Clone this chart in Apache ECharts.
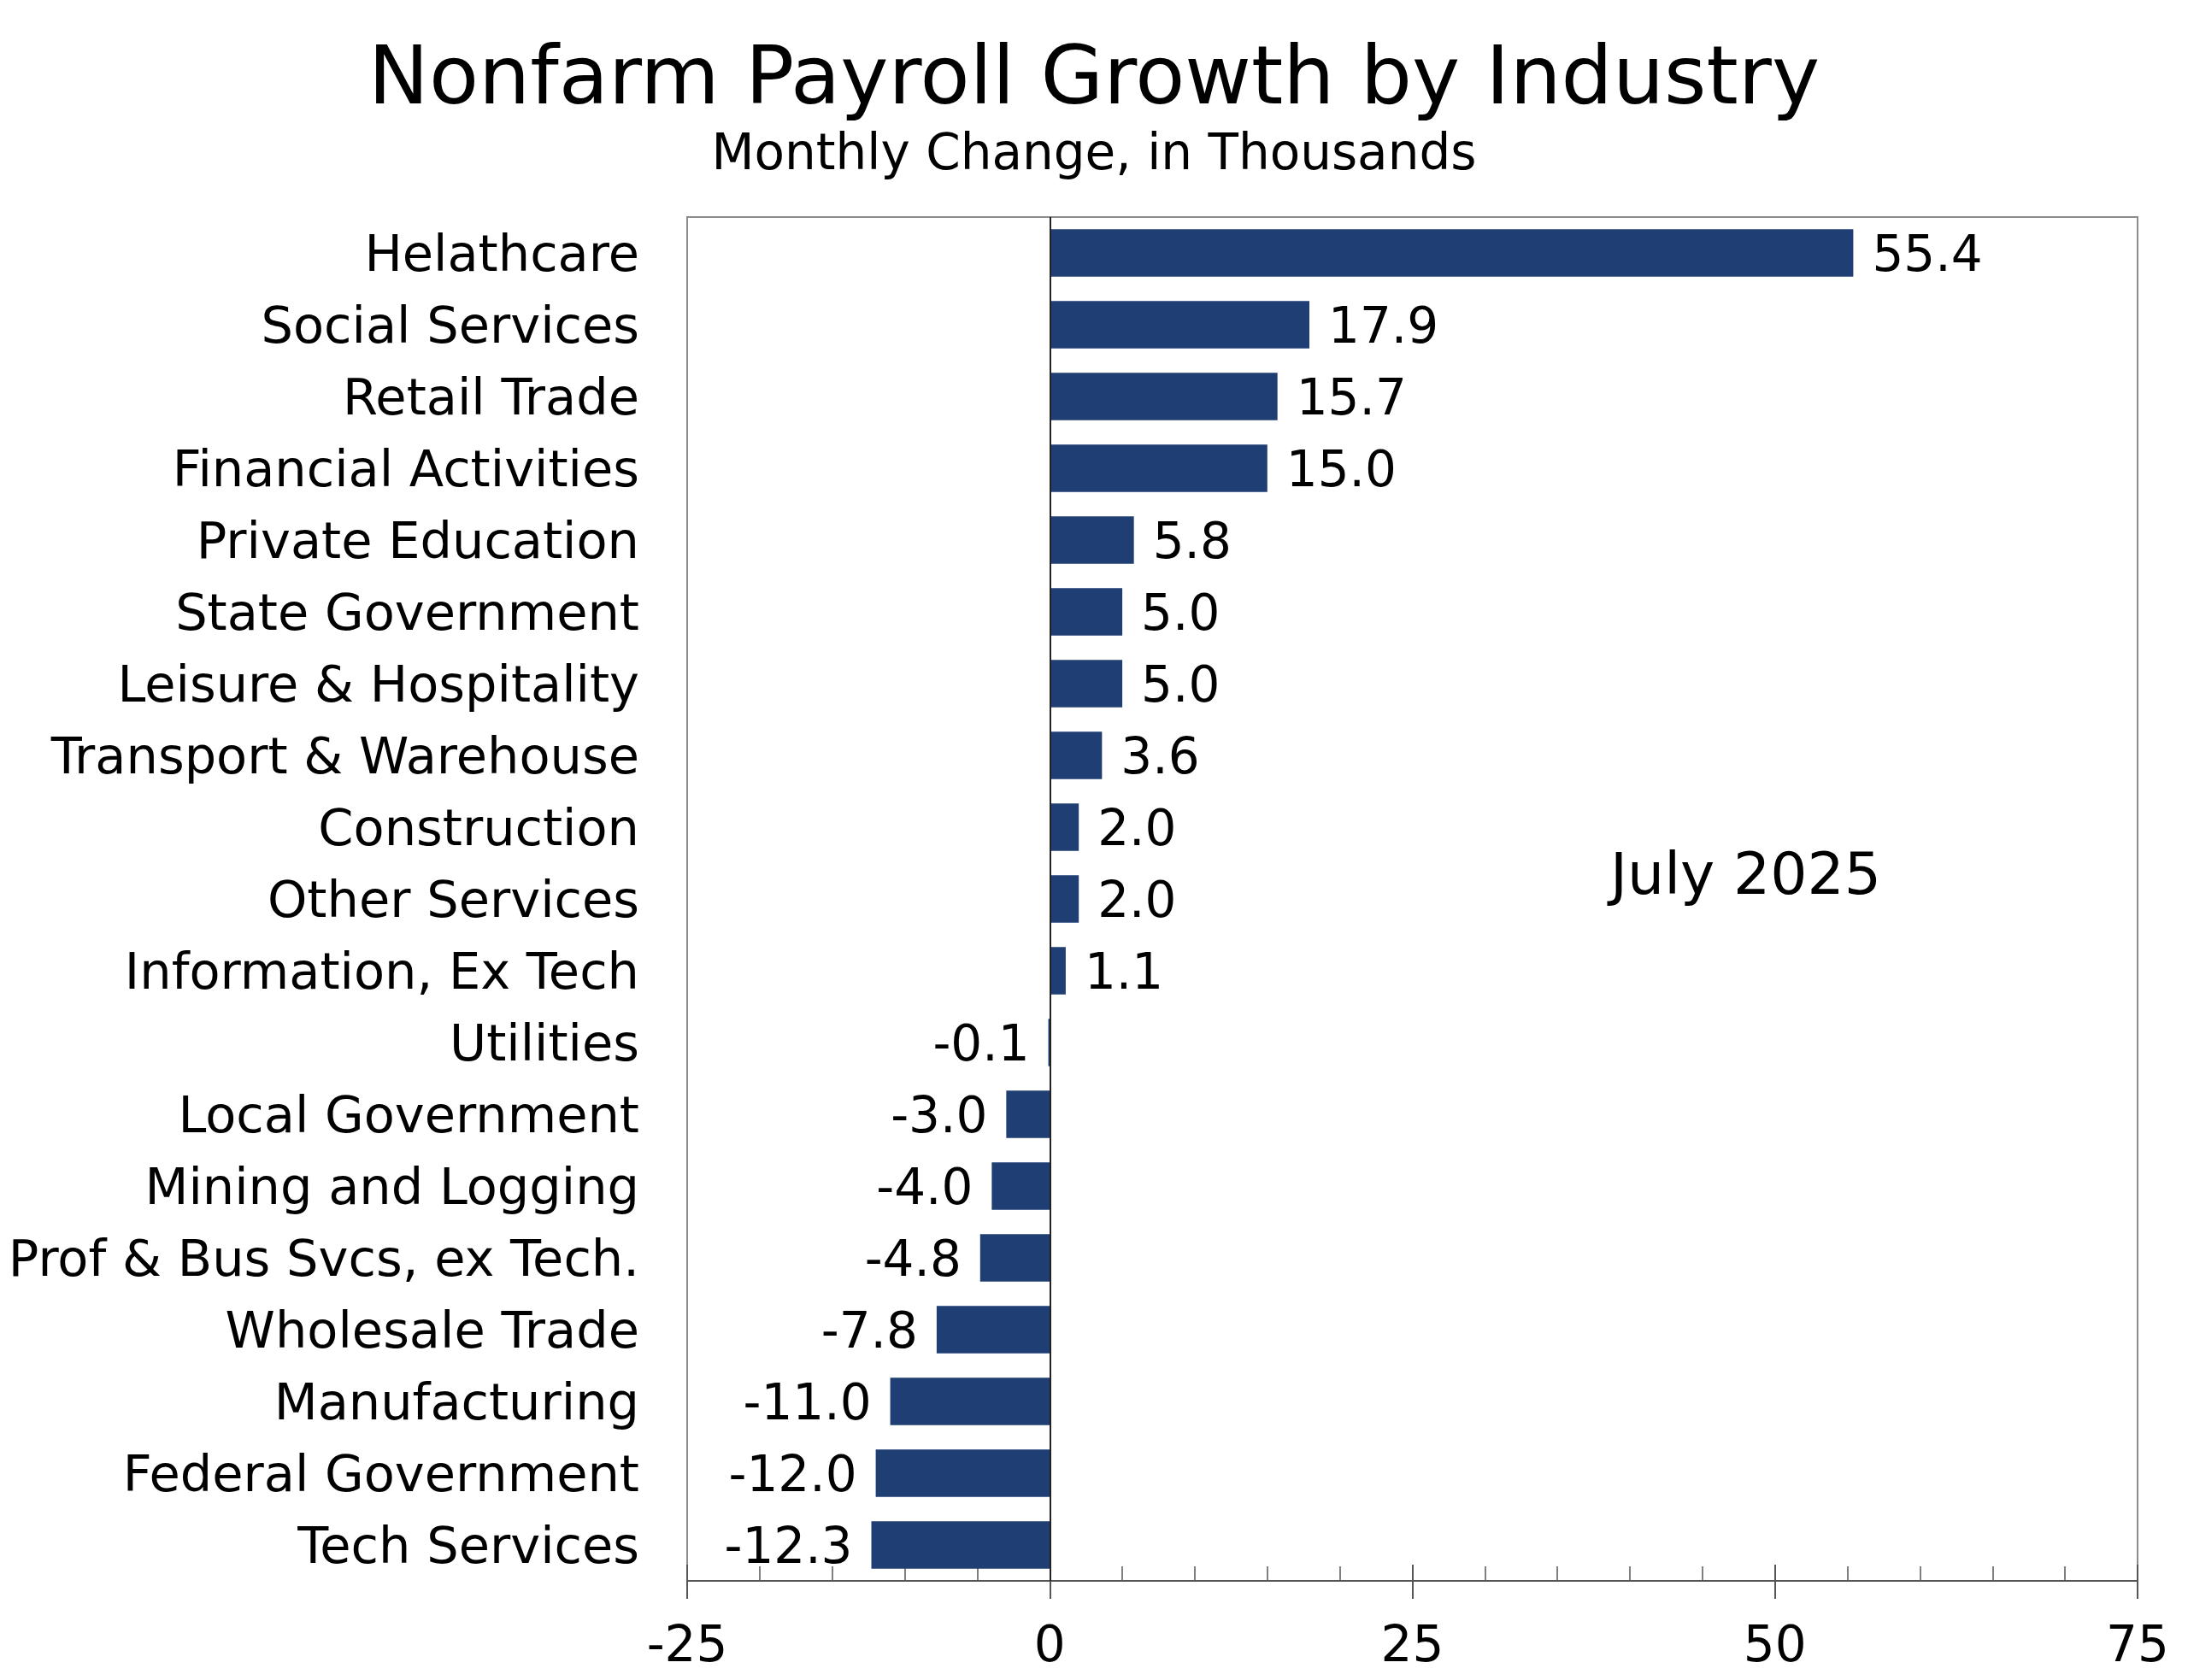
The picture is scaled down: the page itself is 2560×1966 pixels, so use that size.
<!DOCTYPE html>
<html><head><meta charset="utf-8">
<script src="https://cdn.jsdelivr.net/npm/echarts@6/dist/echarts.min.js"></script>
<style>html,body{margin:0;padding:0;background:#fff}#c{width:2560px;height:1966px}</style>
</head><body><div id="c"></div>
<script>
const categories = ["Helathcare","Social Services","Retail Trade","Financial Activities","Private Education","State Government","Leisure & Hospitality","Transport & Warehouse","Construction","Other Services","Information, Ex Tech","Utilities","Local Government","Mining and Logging","Prof & Bus Svcs, ex Tech.","Wholesale Trade","Manufacturing","Federal Government","Tech Services"];
const values = [55.4,17.9,15.7,15.0,5.8,5.0,5.0,3.6,2.0,2.0,1.1,-0.1,-3.0,-4.0,-4.8,-7.8,-11.0,-12.0,-12.3];
const xTicks = [-25,0,25,50,75];
const titleText = "Nonfarm Payroll Growth by Industry";
const subtitleText = "Monthly Change, in Thousands";
const noteText = "July 2025";

const FONT = "DejaVu Sans";
const chart = echarts.init(document.getElementById('c'), null, {renderer:'canvas'});
const xMin = xTicks[0], xMax = xTicks[xTicks.length-1], xInt = xTicks[1]-xTicks[0];
chart.setOption({
  animation:false,
  backgroundColor:'#fff',
  title:[
    {text:titleText,left:'center',top:44,textStyle:{fontFamily:FONT,fontSize:95,fontWeight:'normal',color:'#000'}},
    {text:subtitleText,left:'center',top:149,textStyle:{fontFamily:FONT,fontSize:58,fontWeight:'normal',color:'#000'}}
  ],
  graphic:[{type:'text',left:1884,top:994,style:{text:noteText,fontFamily:FONT,fontSize:68,fill:'#000'}}],
  grid:{left:804,right:59,top:254,bottom:116,show:true,borderColor:'#8c8c8c',borderWidth:2,backgroundColor:'transparent'},
  xAxis:[
    {type:'value',min:xMin,max:xMax,interval:xInt,position:'bottom',
     axisLine:{show:true,onZero:false,lineStyle:{color:'#555',width:2}},
     axisTick:{show:true,inside:false,length:21,lineStyle:{color:'#555',width:2}},
     axisLabel:{margin:50,fontFamily:FONT,fontSize:58,color:'#000'},
     splitLine:{show:false}},
    {type:'value',min:xMin,max:xMax,interval:xInt,position:'bottom',
     axisLine:{show:false,onZero:false},
     axisTick:{show:true,inside:true,length:19,lineStyle:{color:'#555',width:2}},
     minorTick:{show:true,splitNumber:5,length:17,lineStyle:{color:'#555',width:1.5}},
     axisLabel:{show:false},splitLine:{show:false}}
  ],
  yAxis:{type:'category',data:categories,inverse:true,
    axisLine:{show:false,onZero:false},axisTick:{show:false},
    axisLabel:{margin:56,color:'#000',formatter:v=>'{a|'+v+'}',
      rich:{a:{fontFamily:FONT,fontSize:59,color:'#000',padding:[12,0,0,0]}}}},
  series:[{type:'bar',xAxisIndex:0,barCategoryGap:'34%',
    itemStyle:{color:'#1f3f74'},
    data:values.map(v=>({value:v,label:{show:true,position:v<0?'left':'right',distance:22,
      formatter:p=>p.value.toFixed(1),fontFamily:FONT,fontSize:58,color:'#000',offset:[0,6]}})),
    markLine:{silent:true,symbol:'none',label:{show:false},
      lineStyle:{color:'#222',width:2,type:'solid'},data:[{xAxis:0}]}
  }]
});
</script></body></html>
